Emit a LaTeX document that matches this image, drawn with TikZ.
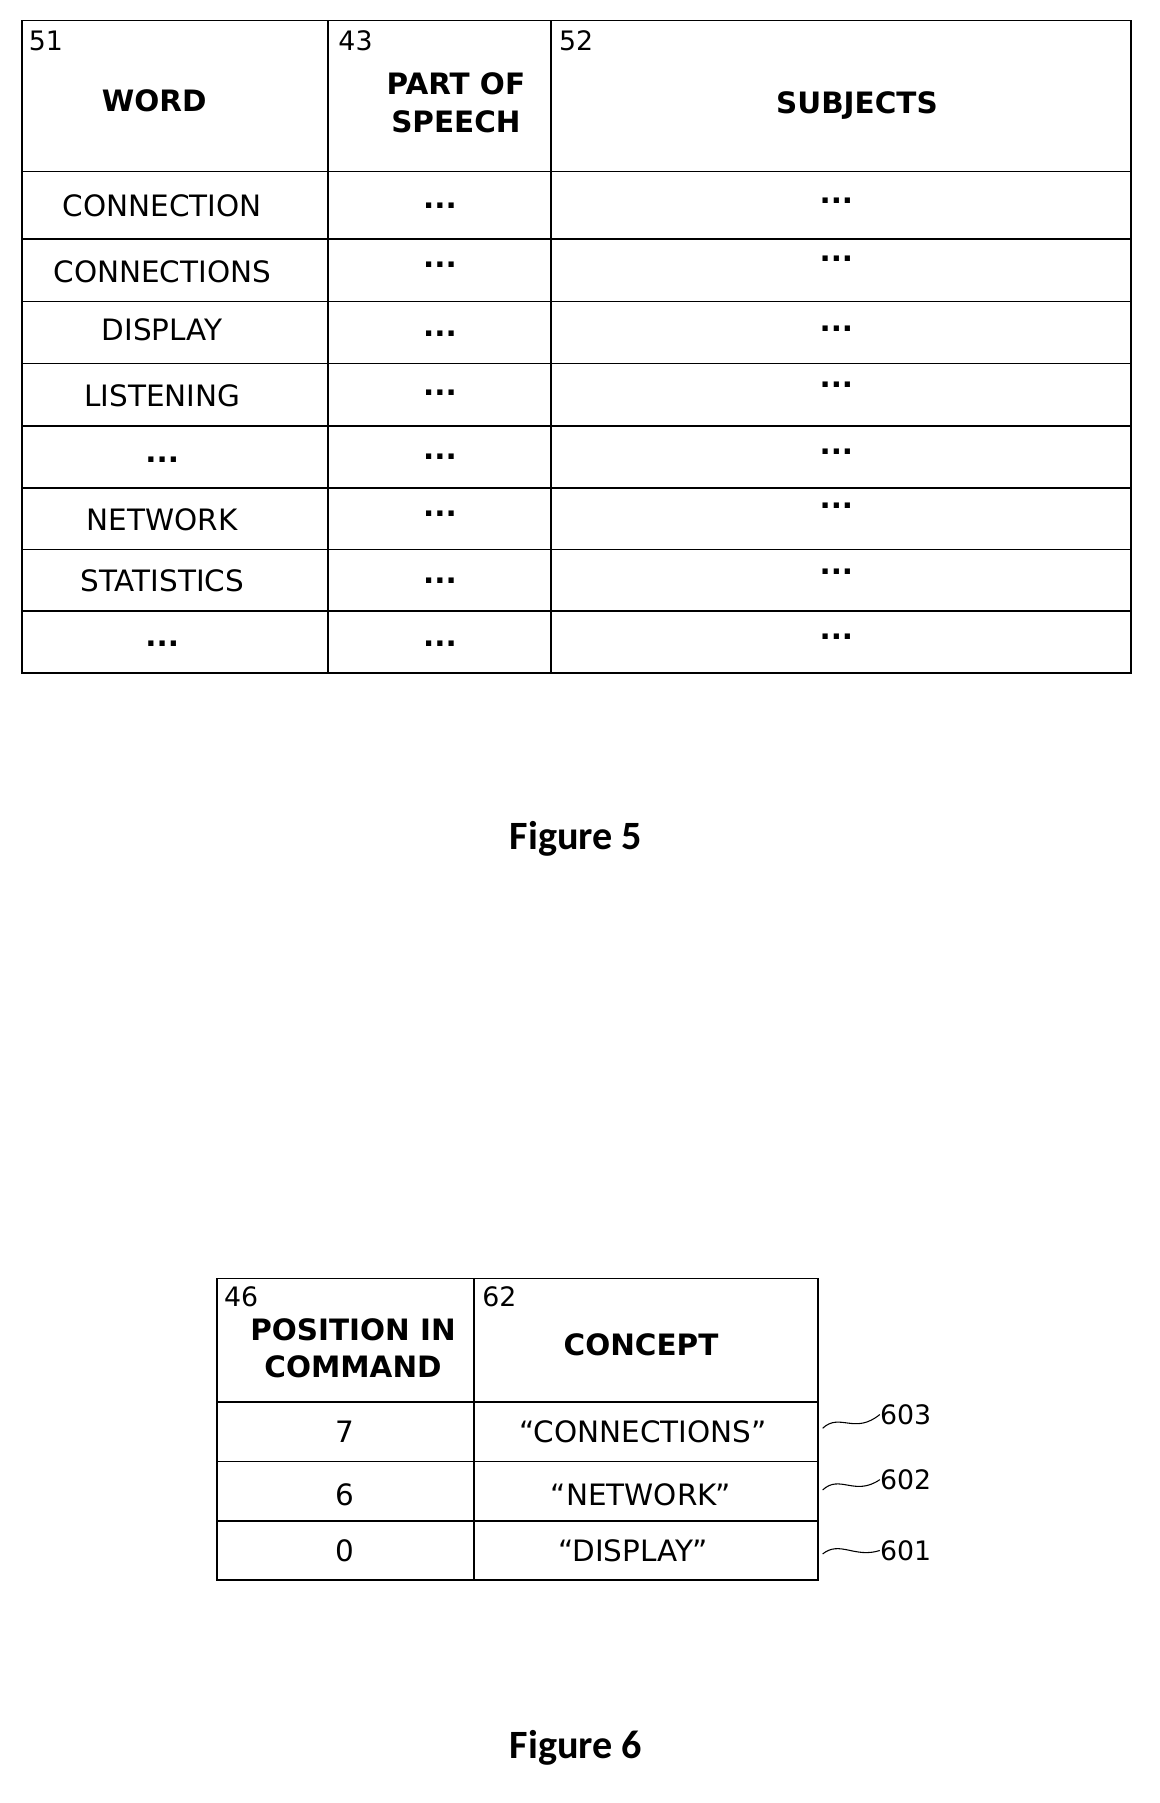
\documentclass[tikz,border=0pt]{standalone}
\usepackage{fontspec}
\setmainfont{DejaVu Sans}
\newfontfamily\capfont{Carlito}
\newcommand{\dts}{\textbf{...}}
\begin{document}
\begin{tikzpicture}[x=0.03cm,y=-0.03cm,
  cell/.style={font=\fontsize{22}{26}\selectfont,inner sep=0pt},
  hdr/.style={font=\fontsize{22}{28}\selectfont\bfseries,align=center,inner sep=0pt},
  num/.style={font=\fontsize{20}{24}\selectfont,anchor=north west,inner sep=0pt},
  figcap/.style={font=\fontsize{30}{36}\selectfont\capfont\bfseries},
  grid/.style={line width=1.2pt}]
\useasboundingbox (0,0) rectangle (1015,1578);
% Table 1
\draw[grid] (19,18) rectangle (990,589);
\draw[grid] (287,18) -- (287,589);
\draw[grid] (482,18) -- (482,589);
\foreach \y in {150,209,264,318,373,427,481,535} \draw[grid] (19,\y) -- (990,\y);
\node[num] (n51) at (25,27) {51};
\node[num] (n43) at (296,27) {43};
\node[num] (n52) at (489,27) {52};
\node[hdr] (hw) at (135,88) {WORD};
\node[hdr] (hp) at (399,90) {PART OF\\SPEECH};
\node[hdr] (hs) at (750,92) {SUBJECTS};
\node[cell] (w1) at (142,180) {CONNECTION};
\node[cell] (w2) at (142,238) {CONNECTIONS};
\node[cell] (w3) at (142,289) {DISPLAY};
\node[cell] (w4) at (142,346) {LISTENING};
\node[cell] (w5) at (142,402) {\dts};
\node[cell] (w6) at (142,455) {NETWORK};
\node[cell] (w7) at (142,508) {STATISTICS};
\node[cell] (w8) at (142,563) {\dts};
\foreach \yy [count=\i] in {180,232,292,344,400,450,508,563}{
  \node[cell] (p\i) at (385,\yy) {\dts};
}
\foreach \yy [count=\i] in {176,226,288,337,395,443,500,557}{
  \node[cell] (s\i) at (732,\yy) {\dts};
}
\node[figcap] (f5) at (504,734) {Figure 5};
% Table 2
\draw[grid] (190,1119) rectangle (716,1383);
\draw[grid] (415,1119) -- (415,1383);
\foreach \y in {1227,1279,1331} \draw[grid] (190,\y) -- (716,\y);
\node[num] (n46) at (196,1126) {46};
\node[num] (n62) at (422,1126) {62};
\node[hdr] (hpc) at (309,1180) {POSITION IN\\COMMAND};
\node[hdr] (hc) at (561,1177) {CONCEPT};
\node[cell] (a1) at (302,1253) {7};
\node[cell] (b1) at (563,1253) {“CONNECTIONS”};
\node[cell] (a2) at (302,1308) {6};
\node[cell] (b2) at (561,1308) {“NETWORK”};
\node[cell] (a3) at (302,1357) {0};
\node[cell] (b3) at (554,1357) {“DISPLAY”};
\node[num,anchor=west] (l603) at (770,1238) {603};
\node[num,anchor=west] (l602) at (770,1295) {602};
\node[num,anchor=west] (l601) at (770,1357) {601};
\draw[thick] (720,1250) .. controls (735,1236) and (748,1256) .. (l603.west);
\draw[thick] (720,1304) .. controls (735,1290) and (748,1310) .. (l602.west);
\draw[thick] (720,1360) .. controls (735,1348) and (748,1364) .. (l601.west);
\node[figcap] (f6) at (504,1530) {Figure 6};
\end{tikzpicture}
\end{document}
